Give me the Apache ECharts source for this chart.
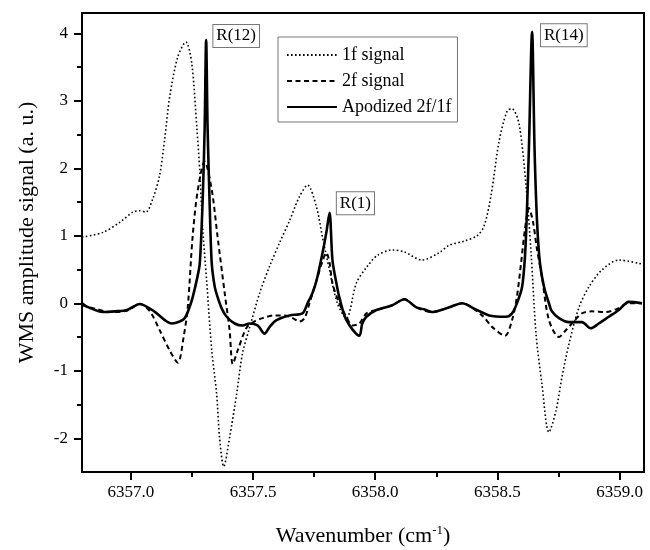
<!DOCTYPE html>
<html>
<head>
<meta charset="utf-8">
<script src="https://cdn.jsdelivr.net/npm/echarts@6/dist/echarts.min.js"></script>
<style>html,body{margin:0;padding:0;background:#fff}#c{width:650px;height:550px}</style>
</head>
<body>
<div id="c"></div>
<script>
// ---- data ----
const seriesNames = ['1f signal', '2f signal', 'Apodized 2f/1f'];

const f1X = [6356.800,6356.886,6356.955,6357.008,6357.037,6357.061,6357.090,6357.118,6357.139,6357.159,6357.192,6357.225,6357.249,6357.270,6357.282,6357.294,6357.310,6357.331,6357.351,6357.363,6357.380,6357.404,6357.433,6357.457,6357.486,6357.527,6357.568,6357.609,6357.649,6357.690,6357.723,6357.760,6357.784,6357.813,6357.845,6357.882,6357.923,6357.964,6358.009,6358.070,6358.119,6358.192,6358.262,6358.303,6358.364,6358.417,6358.446,6358.474,6358.507,6358.540,6358.560,6358.589,6358.617,6358.638,6358.658,6358.682,6358.711,6358.740,6358.764,6358.793,6358.834,6358.874,6358.927,6358.997,6359.092];
const f1Y = [0.98,1.05,1.20,1.35,1.37,1.35,1.55,1.90,2.45,3.06,3.65,3.87,3.56,2.60,1.95,1.10,0.34,-0.70,-1.34,-1.99,-2.42,-1.99,-1.34,-0.74,-0.36,0.15,0.55,0.90,1.22,1.58,1.75,1.42,0.98,0.49,0.00,-0.22,0.30,0.53,0.71,0.79,0.76,0.64,0.75,0.86,0.92,1.00,1.15,1.60,2.40,2.85,2.88,2.65,1.75,0.74,-0.45,-1.19,-1.91,-1.59,-1.10,-0.60,-0.06,0.24,0.49,0.64,0.58];

const f2X = [6356.800,6356.853,6356.914,6356.984,6357.037,6357.078,6357.118,6357.159,6357.192,6357.216,6357.233,6357.253,6357.274,6357.302,6357.331,6357.355,6357.384,6357.404,6357.417,6357.437,6357.474,6357.506,6357.539,6357.588,6357.629,6357.662,6357.690,6357.711,6357.731,6357.760,6357.784,6357.800,6357.813,6357.825,6357.853,6357.882,6357.907,6357.935,6357.964,6358.005,6358.070,6358.119,6358.168,6358.233,6358.303,6358.356,6358.437,6358.478,6358.531,6358.560,6358.580,6358.597,6358.613,6358.629,6358.646,6358.662,6358.682,6358.711,6358.752,6358.780,6358.805,6358.846,6358.887,6358.944,6358.985,6359.038,6359.092];
const f2Y = [-0.03,-0.08,-0.13,-0.11,-0.01,-0.12,-0.40,-0.70,-0.88,-0.50,-0.05,1.00,1.68,2.10,1.68,0.98,0.15,-0.40,-0.90,-0.70,-0.36,-0.27,-0.22,-0.18,-0.18,-0.22,-0.27,-0.22,0.00,0.34,0.62,0.75,0.60,0.30,0.00,-0.20,-0.33,-0.30,-0.15,-0.10,-0.03,0.06,-0.06,-0.13,-0.06,0.00,-0.18,-0.35,-0.48,-0.25,0.10,0.60,1.10,1.41,1.20,0.80,0.40,-0.25,-0.50,-0.40,-0.30,-0.15,-0.12,-0.13,-0.09,0.00,0.00];

const apX = [6356.800,6356.820,6356.886,6356.935,6356.984,6357.037,6357.078,6357.106,6357.139,6357.167,6357.200,6357.221,6357.241,6357.253,6357.270,6357.282,6357.294,6357.302,6357.308,6357.314,6357.323,6357.331,6357.343,6357.355,6357.372,6357.392,6357.425,6357.457,6357.486,6357.519,6357.547,6357.568,6357.596,6357.649,6357.702,6357.723,6357.743,6357.760,6357.784,6357.800,6357.813,6357.825,6357.841,6357.853,6357.882,6357.935,6357.947,6357.964,6358.005,6358.070,6358.119,6358.168,6358.200,6358.233,6358.270,6358.303,6358.356,6358.405,6358.466,6358.535,6358.560,6358.580,6358.601,6358.613,6358.621,6358.629,6358.642,6358.652,6358.662,6358.674,6358.691,6358.711,6358.723,6358.752,6358.793,6358.846,6358.882,6358.915,6358.956,6358.997,6359.038,6359.092];
const apY = [0.00,-0.05,-0.13,-0.12,-0.10,-0.01,-0.08,-0.15,-0.25,-0.30,-0.27,-0.22,-0.05,0.09,0.35,0.59,1.55,2.60,3.90,2.60,1.40,0.59,0.25,0.09,-0.08,-0.20,-0.30,-0.33,-0.30,-0.33,-0.45,-0.35,-0.25,-0.18,-0.15,0.00,0.15,0.34,0.74,1.05,1.34,0.64,0.30,0.09,-0.25,-0.48,-0.30,-0.20,-0.10,-0.03,0.06,-0.06,-0.09,-0.13,-0.10,-0.06,0.00,-0.08,-0.18,-0.20,-0.15,0.00,0.24,0.70,1.38,2.30,4.02,2.30,1.23,0.60,0.24,0.00,-0.12,-0.22,-0.28,-0.28,-0.37,-0.30,-0.20,-0.10,0.02,0.00];

// peak annotations
const peakNames = ['R(12)', 'R(1)', 'R(14)'];
const peakLabelX = [6357.431, 6357.919, 6358.772];
const peakLabelY = [3.96, 1.48, 3.97];

// axis ticks
const xMajorTicks = [6357.0, 6357.5, 6358.0, 6358.5, 6359.0];
const xMinorTicks = [6357.25, 6357.75, 6358.25, 6358.75];
const yMajorTicks = [-2, -1, 0, 1, 2, 3, 4];
const yMinorTicks = [-1.5, -0.5, 0.5, 1.5, 2.5, 3.5];

const xMin = 6356.8, xMax = 6359.1, yMin = -2.5, yMax = 4.3;

// ---- chart ----
const FONT = '"Liberation Serif", "DejaVu Serif", serif';
const zip = (xs, ys) => xs.map((x, i) => [x, ys[i]]);

const chart = echarts.init(document.getElementById('c'), null, {renderer: 'canvas'});

const gridPos = {left: 82, right: 6, top: 13, bottom: 78};

const option = {
  backgroundColor: '#fff',
  animation: false,
  color: ['#000', '#000', '#000'],
  textStyle: {fontFamily: FONT, color: '#000'},
  grid: Object.assign({show: true, borderColor: '#000', borderWidth: 2, backgroundColor: 'transparent',
    containLabel: false, outerBoundsMode: 'none'}, gridPos),
  legend: {
    left: 278, top: 37,
    orient: 'vertical',
    data: seriesNames,
    itemWidth: 50, itemHeight: 12, itemGap: 8,
    padding: [9, 6, 6, 8],
    borderColor: '#777', borderWidth: 1,
    backgroundColor: '#fff',
    itemStyle: {opacity: 0},
    textStyle: {fontFamily: FONT, fontSize: 18, color: '#000'},
    selectedMode: false
  },
  xAxis: [{
    type: 'value', min: xMin, max: xMax,
    name: 'Wavenumber (cm{sup|-1})',
    nameLocation: 'middle', nameGap: 52,
    nameTextStyle: {fontFamily: FONT, fontSize: 22, color: '#000',
      rich: {sup: {fontFamily: FONT, fontSize: 13, verticalAlign: 'top', padding: [0, 0, 11, 0]}}},
    axisLine: {show: true, onZero: false, lineStyle: {color: '#000', width: 2}},
    axisTick: {show: true, inside: false, length: 8, customValues: xMajorTicks, lineStyle: {color: '#000', width: 2}},
    axisLabel: {show: true, customValues: xMajorTicks, margin: 12, fontFamily: FONT, fontSize: 17, color: '#000',
      formatter: v => v.toFixed(1)},
    splitLine: {show: false}
  }, {
    type: 'value', min: xMin, max: xMax, position: 'bottom',
    axisLine: {show: false, onZero: false},
    axisTick: {show: true, inside: false, length: 5, customValues: xMinorTicks, lineStyle: {color: '#000', width: 2}},
    axisLabel: {show: false},
    splitLine: {show: false}
  }],
  yAxis: [{
    type: 'value', min: yMin, max: yMax,
    name: 'WMS amplitude signal (a. u.)',
    nameLocation: 'middle', nameGap: 44,
    nameTextStyle: {fontFamily: FONT, fontSize: 22, color: '#000', padding: [0, 0, 0, 20]},
    axisLine: {show: true, onZero: false, lineStyle: {color: '#000', width: 2}},
    axisTick: {show: true, inside: false, length: 8, customValues: yMajorTicks, lineStyle: {color: '#000', width: 2}},
    axisLabel: {show: true, customValues: yMajorTicks, margin: 14, fontFamily: FONT, fontSize: 17, color: '#000',
      formatter: v => String(Math.round(v))},
    splitLine: {show: false}
  }, {
    type: 'value', min: yMin, max: yMax, position: 'left',
    axisLine: {show: false, onZero: false},
    axisTick: {show: true, inside: false, length: 5, customValues: yMinorTicks, lineStyle: {color: '#000', width: 2}},
    axisLabel: {show: false},
    splitLine: {show: false}
  }],
  series: [{
    name: seriesNames[0], type: 'line', data: zip(f1X, f1Y),
    showSymbol: false, symbol: 'none', smooth: 0.3, z: 2,
    itemStyle: {color: '#000'},
    lineStyle: {color: '#000', width: 1.6, type: [1.6, 2.4]}
  }, {
    name: seriesNames[1], type: 'line', data: zip(f2X, f2Y),
    showSymbol: false, symbol: 'none', smooth: 0.3, z: 3,
    itemStyle: {color: '#000'},
    lineStyle: {color: '#000', width: 2, type: [5, 3.5]}
  }, {
    name: seriesNames[2], type: 'line', data: zip(apX, apY),
    showSymbol: false, symbol: 'none', smooth: 0.3, z: 4,
    itemStyle: {color: '#000'},
    lineStyle: {color: '#000', width: 2.6, type: 'solid'},
    markPoint: {
      symbol: 'rect', symbolSize: 1,
      itemStyle: {color: 'rgba(0,0,0,0)'},
      label: {show: true, position: 'inside', formatter: p => p.name,
        fontFamily: FONT, fontSize: 17, color: '#000',
        backgroundColor: '#fff', borderColor: '#777', borderWidth: 1, padding: [3, 3, 2, 3]},
      data: peakNames.map((n, i) => ({name: n, coord: [peakLabelX[i], peakLabelY[i]]}))
    }
  }]
};
chart.setOption(option);
</script>
</body>
</html>
